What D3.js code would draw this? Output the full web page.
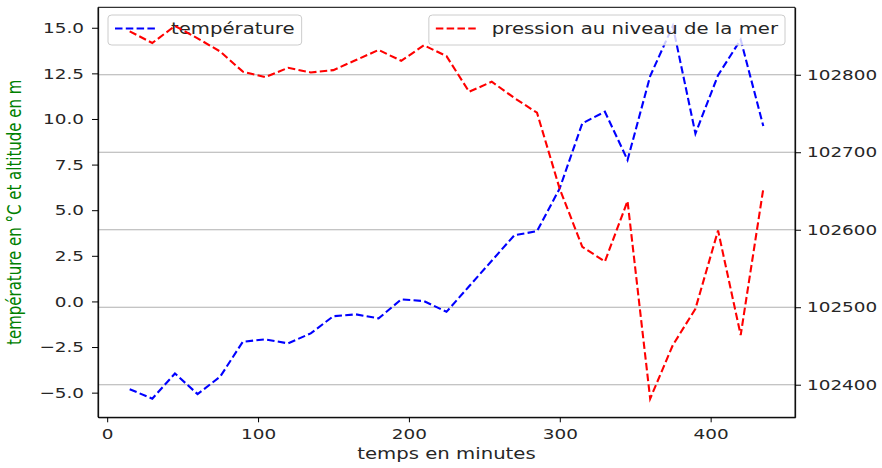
<!DOCTYPE html>
<html>
<head>
<meta charset="utf-8">
<script src="https://cdn.jsdelivr.net/npm/d3@7"></script>
<style>
  html, body { margin: 0; padding: 0; background: #fff; }
  svg { display: block; }
  text { font-family: "DejaVu Sans", sans-serif; }
</style>
</head>
<body>
<svg id="chart"></svg>
<script>
// values
const minutes = [15, 30, 45, 60, 75, 90, 105, 120, 135, 150, 165, 180, 195, 210, 225,
                 240, 255, 270, 285, 300, 315, 330, 345, 360, 375, 390, 405, 420, 435];
const temperature = [-4.81, -5.33, -3.95, -5.08, -4.12, -2.21, -2.08, -2.3, -1.75, -0.81,
                     -0.71, -0.93, 0.11, 0.02, -0.57, 0.83, 2.23, 3.63, 3.85, 6.19,
                     9.76, 10.4, 7.75, 12.35, 15.1, 9.2, 12.4, 14.35, 9.61];
const pressure = [102856, 102841, 102863, 102847, 102830, 102804, 102797, 102809, 102803, 102806,
                  102819, 102832, 102818, 102838, 102824, 102778, 102791, 102770, 102751, 102653,
                  102578, 102559, 102637, 102382, 102451, 102498, 102599, 102464, 102653];
const timeTicks = [0, 100, 200, 300, 400];
const tempTicks = [-5, -2.5, 0, 2.5, 5, 7.5, 10, 12.5, 15];
const pressTicks = [102400, 102500, 102600, 102700, 102800];

const width = 882, height = 468;
// the reference is stretched sideways: draw in a narrower box, let the viewBox stretch it
const SX = 1.27;
const vw = width / SX;
const tickFont = 14.5;
const labelFont = 15.5;

const svg = d3.select("#chart")
  .attr("width", width)
  .attr("height", height)
  .attr("viewBox", [0, 0, vw, height])
  .attr("preserveAspectRatio", "none");

const margin = { top: 7.3, right: vw - 795 / SX, bottom: height - 417.3, left: 98 / SX };
const w = vw - margin.left - margin.right;
const h = height - margin.top - margin.bottom;

// matplotlib default 5% margins
function padded(ext) {
  const d = (ext[1] - ext[0]) * 0.05;
  return [ext[0] - d, ext[1] + d];
}

const x = d3.scaleLinear().domain(padded(d3.extent(minutes))).range([0, w]);
const yT = d3.scaleLinear().domain(padded(d3.extent(temperature))).range([h, 0]);
const yP = d3.scaleLinear().domain(padded(d3.extent(pressure))).range([h, 0]);

const g = svg.append("g")
  .attr("transform", `translate(${margin.left},${margin.top})`);

// grid follows the right axis
g.append("g").selectAll("line")
  .data(pressTicks)
  .join("line")
    .attr("x1", 0).attr("x2", w)
    .attr("y1", d => yP(d)).attr("y2", d => yP(d))
    .attr("stroke", "#b0b0b0")
    .attr("stroke-width", 1.1)
    .attr("vector-effect", "non-scaling-stroke");

function drawLine(values, yScale, color) {
  const line = d3.line()
    .x((d, i) => x(minutes[i]))
    .y(d => yScale(d));
  g.append("path")
    .datum(values)
    .attr("d", line)
    .attr("fill", "none")
    .attr("stroke", color)
    .attr("stroke-width", 2.1)
    .attr("stroke-dasharray", "7.5,3.3")
    .attr("vector-effect", "non-scaling-stroke");
}

function drawLegend(label, color, edge, alignRight) {
  const padX = 7 / SX, handle = 40 / SX, gap = 16 / SX;
  const top = 15 - margin.top, boxH = 30;
  const lg = g.append("g");
  const box = lg.append("rect")
    .attr("y", top)
    .attr("height", boxH)
    .attr("rx", 3).attr("ry", 3)
    .attr("fill", "white")
    .attr("fill-opacity", 0.8)
    .attr("stroke", "#cccccc")
    .attr("stroke-width", 1)
    .attr("vector-effect", "non-scaling-stroke");
  const txt = lg.append("text")
    .attr("y", top + 19.5)
    .attr("font-size", labelFont)
    .attr("fill", "#262626")
    .text(label);
  const len = txt.node().getComputedTextLength();
  const boxW = padX + handle + gap + len + padX;
  const x0 = alignRight ? edge - boxW : edge;
  box.attr("x", x0).attr("width", boxW);
  txt.attr("x", x0 + padX + handle + gap);
  lg.append("line")
    .attr("x1", x0 + padX).attr("x2", x0 + padX + handle)
    .attr("y1", top + 13.5).attr("y2", top + 13.5)
    .attr("stroke", color)
    .attr("stroke-width", 2.1)
    .attr("stroke-dasharray", "7.5,3.3")
    .attr("vector-effect", "non-scaling-stroke");
}

// first axes: temperature, then the twin axes on top
drawLine(temperature, yT, "blue");
drawLegend("température", "blue", 10 / SX, false);
drawLine(pressure, yP, "red");
drawLegend("pression au niveau de la mer", "red", w - 10 / SX, true);

const fmt1 = d3.format(".1f");

const xAxis = g.append("g")
  .attr("transform", `translate(0,${h})`)
  .call(d3.axisBottom(x).tickValues(timeTicks).tickSize(5).tickPadding(6).tickSizeOuter(0));

const yLeft = g.append("g")
  .call(d3.axisLeft(yT).tickValues(tempTicks).tickFormat(fmt1)
    .tickSize(6 / SX).tickPadding(8 / SX).tickSizeOuter(0));

const yRight = g.append("g")
  .attr("transform", `translate(${w},0)`)
  .call(d3.axisRight(yP).tickValues(pressTicks).tickFormat(d3.format("d"))
    .tickSize(6 / SX).tickPadding(6 / SX).tickSizeOuter(0));

[xAxis, yLeft, yRight].forEach(ax => {
  ax.selectAll("path, line")
    .attr("stroke", "#000")
    .attr("stroke-width", 1)
    .attr("vector-effect", "non-scaling-stroke");
  ax.selectAll("text")
    .attr("fill", "#262626")
    .attr("font-size", tickFont)
    .attr("font-family", "'DejaVu Sans', sans-serif");
});

// full frame
g.append("rect")
  .attr("width", w)
  .attr("height", h)
  .attr("fill", "none")
  .attr("stroke", "#000")
  .attr("stroke-width", 1)
  .attr("vector-effect", "non-scaling-stroke");

// axis titles
svg.append("text")
  .attr("x", margin.left + w / 2)
  .attr("y", 459.5)
  .attr("text-anchor", "middle")
  .attr("font-size", labelFont)
  .attr("fill", "#262626")
  .text("temps en minutes");

svg.append("text")
  .attr("transform", `translate(${20.7 / SX},${margin.top + h / 2}) rotate(-90)`)
  .attr("text-anchor", "middle")
  .attr("font-size", 15)
  .attr("fill", "green")
  .text("température en °C et altitude en m");
</script>
</body>
</html>
